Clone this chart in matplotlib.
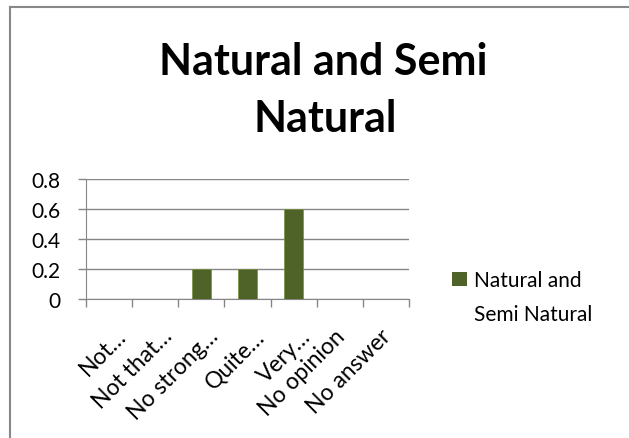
import matplotlib
matplotlib.use("Agg")
import matplotlib.pyplot as plt
from matplotlib.lines import Line2D
from matplotlib.patches import Rectangle
from matplotlib.transforms import ScaledTranslation
import numpy as np

categories = ["Not…", "Not that…", "No strong…", "Quite…", "Very…", "No opinion", "No answer"]
values = [0, 0, 0.2, 0.2, 0.6, 0, 0]
series_name = ["Natural and", "Semi Natural"]
title_lines = ["Natural and Semi", "Natural"]
yticks = [0, 0.2, 0.4, 0.6, 0.8]
ytick_labels = ["0", "0.2", "0.4", "0.6", "0.8"]

plt.rcParams['font.family'] = ['Lato', 'DejaVu Sans']
W, H = 629, 439
fig = plt.figure(figsize=(W/100, H/100), dpi=100)
# chart border (only top and left visible)
fig.add_artist(Line2D([10/W, 10/W], [0, 1-7.5/H], transform=fig.transFigure, color='#888888', lw=1.5))
fig.add_artist(Line2D([10/W, 1], [1-7.5/H, 1-7.5/H], transform=fig.transFigure, color='#888888', lw=1.5))

ax = fig.add_axes([86/W, 1-300/H, (409-86)/W, (300-180)/H])
x = np.arange(len(categories))
ax.bar(x, values, width=0.41, color='#4F6228', edgecolor='#76923C', linewidth=0.5, zorder=3)
ax.set_xlim(-0.5, len(categories)-0.5)
ax.set_ylim(0, 0.8)
ax.set_yticks(yticks)
ax.set_yticklabels(ytick_labels, fontsize=15)
ax.yaxis.grid(True, color='#868686', linewidth=1, zorder=0)
ax.set_xticks(np.arange(-0.5, len(categories), 1.0))
ax.set_xticklabels([])
ax.set_xticks(x, minor=True)
ax.set_xticklabels(categories, minor=True, rotation=45, ha='right', va='center',
                   rotation_mode='anchor', fontsize=16.5)
ax.tick_params(axis='x', which='minor', length=0, pad=24)
ax.tick_params(axis='x', which='major', length=5.5, width=1, color='#868686', direction='out')
ax.tick_params(axis='y', length=5.5, width=1, color='#868686', direction='out', pad=13)
for lbl in ax.get_xticklabels(minor=True):
    dx = 14 if lbl.get_text().endswith("…") else 2
    lbl.set_transform(lbl.get_transform() + ScaledTranslation(dx/100, 0, fig.dpi_scale_trans))
for s in ['top', 'right']:
    ax.spines[s].set_visible(False)
ax.spines['left'].set_color('#868686')
ax.spines['bottom'].set_color('#868686')

fig.text(323/W, 1-75/H, title_lines[0], ha='center', va='baseline', fontsize=31, fontweight='bold')
fig.text(325/W, 1-132/H, title_lines[1], ha='center', va='baseline', fontsize=31, fontweight='bold')

fig.patches.append(Rectangle((452/W, 1-287/H), 15/W, 14/H, transform=fig.transFigure,
                             facecolor='#4F6228', edgecolor='none'))
fig.text(474/W, 1-287/H, series_name[0], ha='left', va='baseline', fontsize=15)
fig.text(474/W, 1-321/H, series_name[1], ha='left', va='baseline', fontsize=15)

fig.savefig("out.png", dpi=100)
